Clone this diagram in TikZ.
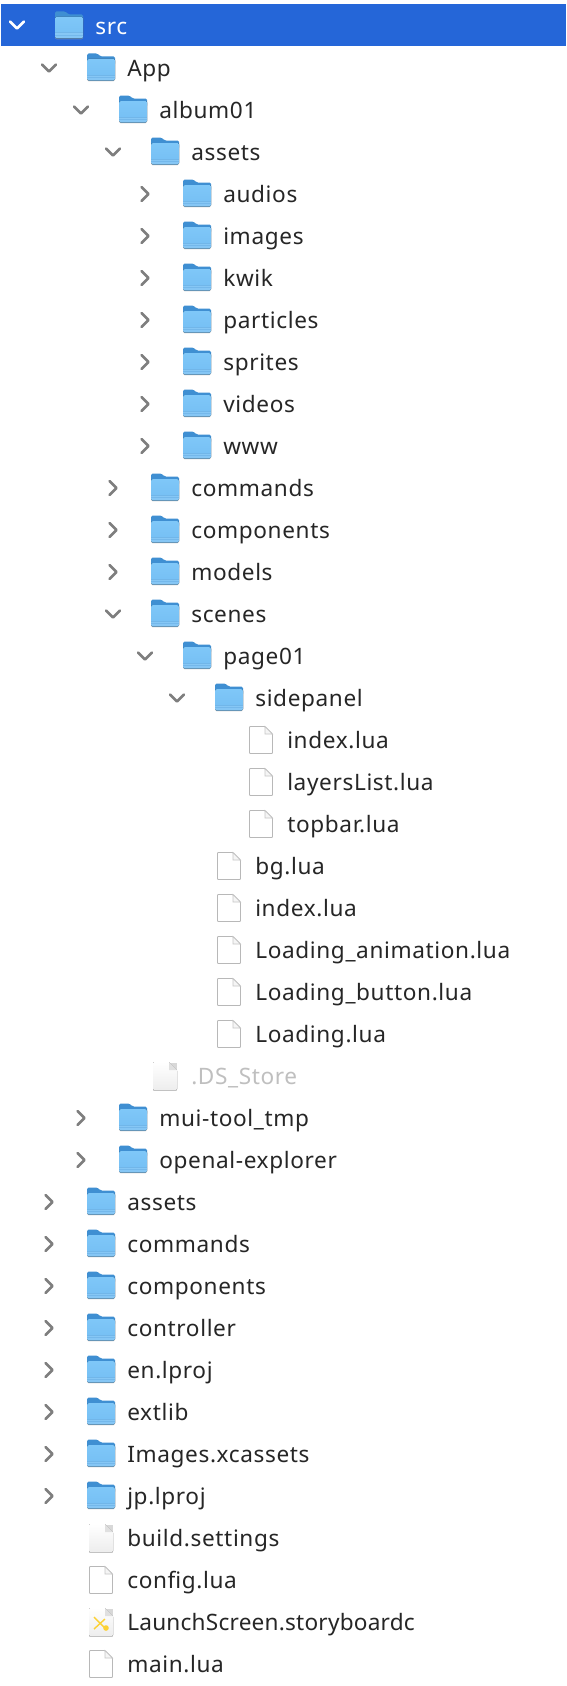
\documentclass[tikz,border=0pt]{standalone}
\usepackage{fontspec}
\setmainfont[LetterSpace=2.8]{Noto Sans}
\newfontfamily\launchfont[LetterSpace=1.0]{Noto Sans}
\definecolor{selblue}{HTML}{2566D8}
\definecolor{foltop}{HTML}{3F8FD2}
\definecolor{folA}{HTML}{7FC7F8}
\definecolor{folB}{HTML}{74BEF3}
\definecolor{folC}{HTML}{5FA9E0}
\definecolor{chev}{HTML}{7E7E7E}
\definecolor{txt}{HTML}{262626}
\tikzset{
  x=1pt,y=-1pt,
  rowtext/.style={anchor=base west,inner sep=0pt,outer sep=0pt,font=\fontsize{22.6}{26}\selectfont,text=txt},
  pics/folder/.style={code={
    \fill[black!30,opacity=.45,rounded corners=2pt] (-14,-10) rectangle (14,13.4);
    \fill[foltop,rounded corners=1.5pt] (-14,-3) -- (-14,-14.5) -- (-3.5,-14.5) -- (-0.5,-11.5) -- (14,-11.5) -- (14,-3) -- cycle;
    \fill[rounded corners=1.5pt,top color=folA,bottom color=folB] (-14,-9) -- (14,-9) -- (14,12.5) -- (-14,12.5) -- cycle;
    \fill[white,opacity=.12] (-14,6.5) rectangle (14,12);
    \fill[folC,opacity=.55] (-14,6.5) rectangle (14,7.1);
    \fill[folC,opacity=.45] (-14,9.4) rectangle (14,10);
  }},
  pics/doc/.style={code={
    \draw[black!28,line width=.9pt,fill=white,rounded corners=.8pt] (-11.5,-13.5) -- (4,-13.5) -- (11.5,-6) -- (11.5,13.5) -- (-11.5,13.5) -- cycle;
    \draw[black!22,line width=.7pt,fill=black!4] (4,-13.5) -- (4,-6) -- (11.5,-6) -- cycle;
  }},
  pics/greydoc/.style={code={
    \fill[black!25,opacity=.6] (-12,-13.5) rectangle (12,14.5);
    \fill[rounded corners=.8pt,top color=white,bottom color=black!7] (-12,-14) -- (4,-14) -- (12,-6) -- (12,14) -- (-12,14) -- cycle;
    \fill[black!12] (4,-14) -- (4,-6) -- (12,-6) -- cycle;
  }},
  pics/storydoc/.style={code={
    \fill[black!25,opacity=.6] (-12,-13.5) rectangle (12,14.5);
    \fill[rounded corners=.8pt,top color=white,bottom color=black!7] (-12,-14) -- (4,-14) -- (12,-6) -- (12,14) -- (-12,14) -- cycle;
    \fill[black!12] (4,-14) -- (4,-6) -- (12,-6) -- cycle;
    \draw[yellow!60!orange!80,line width=1.4pt] (-7,-5) -- (5,7) (-7,7) -- (4,-3);
    \fill[yellow!60!orange!80] (5,6) circle (2.8);
  }},
  pics/open/.style={code={\draw[chev,line width=2.6pt,line cap=round,line join=round] (-7,-3.5) -- (0,3.5) -- (7,-3.5);}},
  pics/openw/.style={code={\draw[white,line width=2.6pt,line cap=round,line join=round] (-7,-3.5) -- (0,3.5) -- (7,-3.5);}},
  pics/closed/.style={code={\draw[chev,line width=2.6pt,line cap=round,line join=round] (-3.5,-7) -- (3.5,0) -- (-3.5,7);}},
}
\newcommand{\entry}[5]{% row, level, chevron, icon, text
  \pgfmathsetmacro{\yy}{26+42*#1}
  \pgfmathsetmacro{\xc}{17+32*#2}
  \pgfmathsetmacro{\xi}{69+32*#2}
  \pgfmathsetmacro{\xt}{95.3+32*#2}
  \ifx&#3&\else\pic at (\xc,\yy) {#3};\fi
  \pic at (\xi,\yy) {#4};
  \node[rowtext] (row#1) at (\xt,\yy+8.7) {#5};
}
\begin{document}
\begin{tikzpicture}
\useasboundingbox (0,0) rectangle (566,1686);
\fill[white] (0,0) rectangle (566,1686);
\fill[selblue] (1,4) rectangle (566,46);
\pic at (17,25) {openw};
\pic at (69,26) {folder};
\node[rowtext,text=white] (row0) at (95.3,34.7) {src};
\entry{1}{1}{open}{folder}{App}
\entry{2}{2}{open}{folder}{album01}
\entry{3}{3}{open}{folder}{assets}
\entry{4}{4}{closed}{folder}{audios}
\entry{5}{4}{closed}{folder}{images}
\entry{6}{4}{closed}{folder}{kwik}
\entry{7}{4}{closed}{folder}{particles}
\entry{8}{4}{closed}{folder}{sprites}
\entry{9}{4}{closed}{folder}{videos}
\entry{10}{4}{closed}{folder}{www}
\entry{11}{3}{closed}{folder}{commands}
\entry{12}{3}{closed}{folder}{components}
\entry{13}{3}{closed}{folder}{models}
\entry{14}{3}{open}{folder}{scenes}
\entry{15}{4}{open}{folder}{page01}
\entry{16}{5}{open}{folder}{sidepanel}
\entry{17}{6}{}{doc}{index.lua}
\entry{18}{6}{}{doc}{layersList.lua}
\entry{19}{6}{}{doc}{topbar.lua}
\entry{20}{5}{}{doc}{bg.lua}
\entry{21}{5}{}{doc}{index.lua}
\entry{22}{5}{}{doc}{Loading\_animation.lua}
\entry{23}{5}{}{doc}{Loading\_button.lua}
\entry{24}{5}{}{doc}{Loading.lua}
\entry{25}{3}{}{greydoc}{\textcolor{black!25}{.DS\_Store}}
\entry{26}{2}{closed}{folder}{mui-tool\_tmp}
\entry{27}{2}{closed}{folder}{openal-explorer}
\entry{28}{1}{closed}{folder}{assets}
\entry{29}{1}{closed}{folder}{commands}
\entry{30}{1}{closed}{folder}{components}
\entry{31}{1}{closed}{folder}{controller}
\entry{32}{1}{closed}{folder}{en.lproj}
\entry{33}{1}{closed}{folder}{extlib}
\entry{34}{1}{closed}{folder}{Images.xcassets}
\entry{35}{1}{closed}{folder}{jp.lproj}
\entry{36}{1}{}{greydoc}{build.settings}
\entry{37}{1}{}{doc}{config.lua}
\entry{38}{1}{}{storydoc}{\launchfont LaunchScreen.storyboardc}
\entry{39}{1}{}{doc}{main.lua}
\end{tikzpicture}
\end{document}
